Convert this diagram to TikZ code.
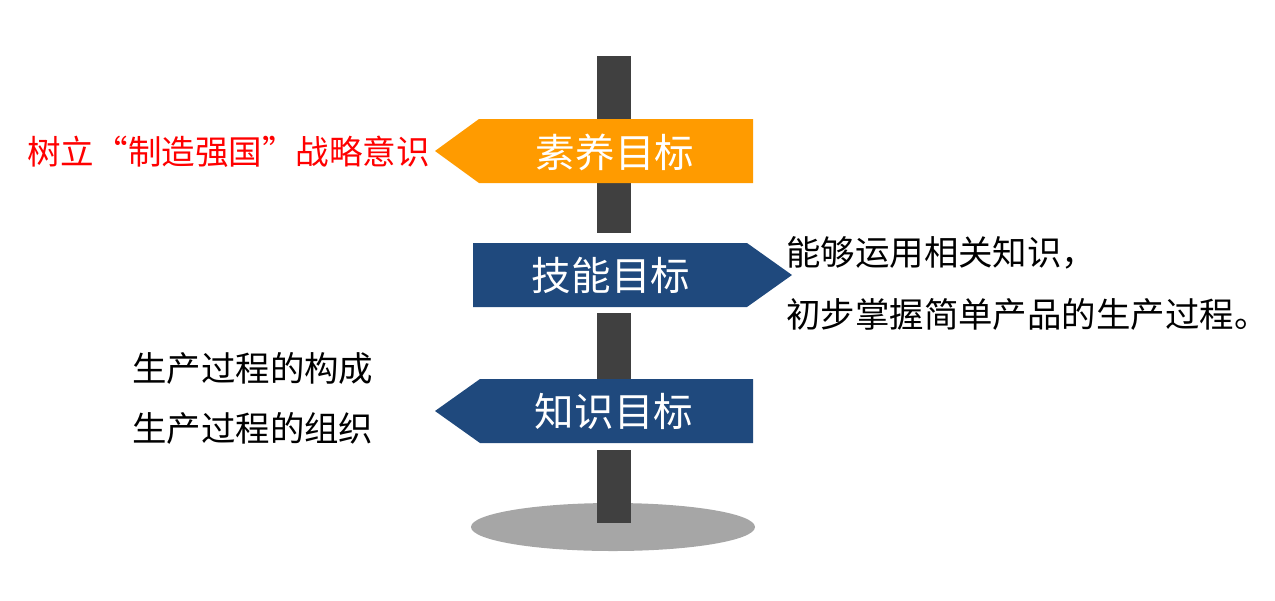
\documentclass[tikz,border=0pt]{standalone}
\usepackage{fontspec}
\newfontfamily\cjk{Noto Sans CJK SC}
\definecolor{signorange}{HTML}{FF9B00}
\definecolor{signblue}{HTML}{1F497D}
\definecolor{pole}{HTML}{404040}
\definecolor{shadowgray}{HTML}{A6A6A6}
\tikzset{
  signtext/.style={text=white,font=\cjk\fontsize{22.5}{26}\selectfont,inner sep=0pt},
  bodytext/.style={font=\cjk\fontsize{19.6}{23}\selectfont,inner sep=0pt,anchor=west},
  polepart/.style={fill=pole,draw=none},
}
\begin{document}
\begin{tikzpicture}[x=0.02cm,y=-0.02cm]
\useasboundingbox (0,0) rectangle (1275,600);
% ground shadow
\fill[shadowgray] (613,527) ellipse [x radius=142, y radius=24];
% pole segments
\fill[polepart] (597,56) rectangle (631,233);
\fill[polepart] (597,313) rectangle (631,379);
\fill[polepart] (597,450) rectangle (631,523);
% sign 1 (orange, pointing left)
\fill[signorange] (435,151) -- (479,119) -- (753,119) -- (753,183) -- (479,183) -- cycle;
\node[signtext] (s1) at (615,152) {素养目标};
% sign 2 (blue, pointing right)
\fill[signblue] (473,243) -- (747,243) -- (792,275) -- (747,307) -- (473,307) -- cycle;
\node[signtext] (s2) at (611,275) {技能目标};
% sign 3 (blue, pointing left)
\fill[signblue] (435,411) -- (480,379) -- (753,379) -- (753,443) -- (480,443) -- cycle;
\node[signtext] (s3) at (614,411) {知识目标};
% texts
\node[bodytext,text=red,font=\cjk\fontsize{19.1}{23}\selectfont] (t1) at (27,152) {树立“制造强国”战略意识};
\node[bodytext] (t2) at (786,253) {能够运用相关知识，};
\node[bodytext] (t3) at (786,314) {初步掌握简单产品的生产过程。};
\node[bodytext] (t4) at (132,368) {生产过程的构成};
\node[bodytext] (t5) at (132,428) {生产过程的组织};
\end{tikzpicture}
\end{document}
